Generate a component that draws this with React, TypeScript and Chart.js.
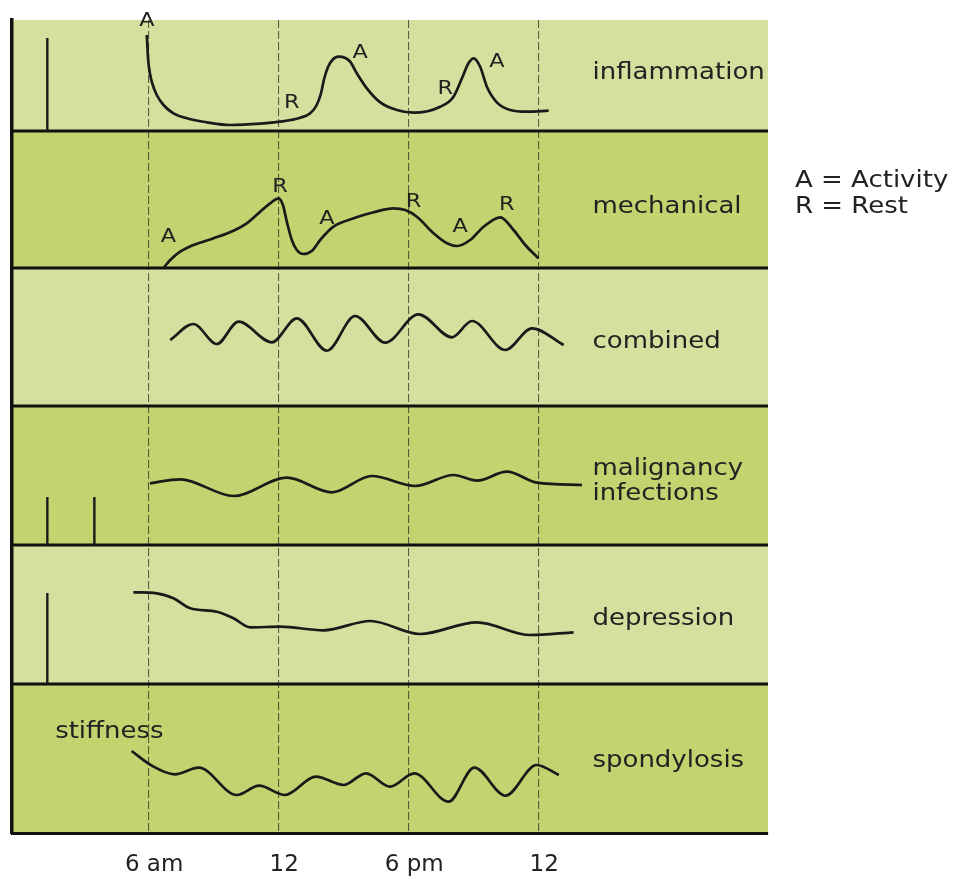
import React, { useEffect, useRef } from 'react';
import { Chart, registerables } from 'chart.js';

Chart.register(...registerables);

// ---- axis / bands ----
const tickHours = [6, 12, 18, 24];
const tickLabels = ['6 am', '12', '6 pm', '12'];
const bandNames = [['inflammation'], ['mechanical'], ['combined'], ['malignancy', 'infections'], ['depression'], ['spondylosis']];
const bandTops = [813, 702, 565, 427, 288, 149];
const bandBottoms = [702, 565, 427, 288, 149, 0];
const bandLabelHour = 26.5;
const bandLabelLevels = [[51.7], [54.7], [58], [70, 45], [59], [66.3]];

// ---- curves (hour of day, level above the band's base line) ----
const inflammationX = [5.94, 6.0, 6.08, 6.2, 6.4, 6.71, 7.17, 7.79, 8.71, 9.78, 11.17, 12.09, 13.02, 13.48, 13.78, 13.98, 14.12, 14.3, 14.5, 14.78, 15.1, 15.32, 15.63, 16.09, 16.71, 17.48, 18.25, 19.48, 20.09, 20.48, 20.78, 21.02, 21.32, 21.63, 22.09, 22.71, 23.48, 24.48];
const inflammationY = [96, 72, 58, 47, 36, 26, 17.7, 12.7, 8.7, 6, 7.3, 9.3, 13.3, 17.7, 26, 38, 52, 64, 71, 74.3, 73, 69.3, 57.7, 42.7, 28.7, 21, 18.3, 24.3, 34.3, 52.7, 67.7, 72.7, 64.3, 44.3, 28.7, 21, 19.3, 20.3];

const mechanicalX = [6.71, 7.02, 7.48, 8.09, 9.02, 9.94, 10.55, 11.17, 11.63, 12.02, 12.22, 12.4, 12.63, 12.86, 13.17, 13.56, 13.94, 14.55, 15.48, 16.4, 17.32, 17.86, 18.4, 19.17, 19.79, 20.25, 20.86, 21.48, 22.25, 22.86, 23.4, 24.01];
const mechanicalY = [0, 8, 16.3, 23, 29.7, 37.3, 44.7, 56.3, 64.7, 69.7, 63, 46.3, 28, 18, 14, 17.3, 28, 41.3, 49.7, 55.7, 59.7, 58, 51.3, 34.7, 24.7, 22, 28, 41.3, 50.7, 38, 23, 9.7];

const combinedX = [7.02, 8.09, 9.17, 10.17, 11.71, 12.86, 14.25, 15.55, 16.94, 18.47, 20.02, 20.94, 22.48, 23.71, 25.17];
const combinedY = [66, 82, 62, 84.3, 63.7, 87.7, 55.3, 90, 63.3, 91.7, 68.7, 85, 56, 77.7, 61];

const malignancyX = [6.09, 7.48, 9.94, 12.4, 14.48, 16.32, 18.32, 20.09, 21.17, 22.55, 23.94, 26.02];
const malignancyY = [61.7, 65.7, 49, 67.3, 52.7, 69, 59, 70, 64.3, 73.3, 62.3, 60];

const depressionX = [5.32, 6.4, 7.17, 7.94, 9.17, 9.94, 10.71, 12.09, 14.09, 16.25, 18.55, 21.17, 23.63, 25.63];
const depressionY = [91.7, 90.7, 85.7, 75.7, 72.3, 65.7, 56.7, 57.3, 53.7, 63, 50, 61.7, 49, 51.7];

const spondylosisX = [5.24, 6.12, 7.23, 8.34, 10.09, 11.12, 12.31, 13.74, 15.02, 16.05, 17.16, 18.28, 19.86, 21.05, 22.49, 23.92, 24.95];
const spondylosisY = [82, 68, 58.7, 65.3, 38, 47.3, 38, 56.3, 48, 59.7, 46.3, 59.7, 31.3, 65.3, 37.3, 68, 58];

// ---- short onset marks (band index, hour, height) ----
const onsetBand = [0, 3, 3, 4];
const onsetHour = [1.35, 1.35, 3.52, 1.35];
const onsetHeight = [93, 48, 48, 91];

// ---- A / R annotations ----
const inflLetters = ['A', 'R', 'A', 'R', 'A'];
const inflLetterX = [5.95, 12.63, 15.78, 19.71, 22.09];
const inflLetterY = [110, 28.7, 78, 42, 69.3];
const mechLetters = ['A', 'R', 'A', 'R', 'A', 'R'];
const mechLetterX = [6.94, 12.09, 14.25, 18.25, 20.4, 22.55];
const mechLetterY = [31.3, 81.3, 49.7, 66.3, 41.3, 63];

const legendLines = ['A = Activity', 'R = Rest'];
const legendLevels = [81.3, 54.7]; // relative to mechanical band base
const stiffnessHour = 1.71;
const stiffnessLevel = 95;

const LIGHT = '#d5e09f';
const DARK = '#c1d46f';
const INK = '#1a1a1a';
const TEXT = '#222';
const FONT = '"DejaVu Sans", Verdana, sans-serif';
const LABEL_SIZE = 23;
const LABEL_STRETCH = 1.13;
const LETTER_SIZE = 20;
const LETTER_STRETCH = 1.12;

function drawText(ctx: CanvasRenderingContext2D, text: string, x: number, y: number, size: number, stretch: number, align: CanvasTextAlign, baseline: CanvasTextBaseline) {
  ctx.save();
  ctx.translate(x, y);
  ctx.scale(stretch, 1);
  ctx.font = `${size}px ${FONT}`;
  ctx.fillStyle = TEXT;
  ctx.textAlign = align;
  ctx.textBaseline = baseline;
  ctx.fillText(text, 0, 0);
  ctx.restore();
}

const diagramPlugin = {
  id: 'diagram',
  beforeDraw(chart: any) {
    const { ctx, chartArea, scales } = chart;
    const y = scales.y;
    ctx.save();
    bandTops.forEach((top: number, i: number) => {
      const t = y.getPixelForValue(top);
      const b = y.getPixelForValue(bandBottoms[i]);
      ctx.fillStyle = i % 2 === 0 ? LIGHT : DARK;
      ctx.fillRect(chartArea.left, t, chartArea.right - chartArea.left, b - t);
    });
    ctx.restore();
  },
  beforeDatasetsDraw(chart: any) {
    const { ctx, chartArea, scales } = chart;
    const y = scales.y;
    ctx.save();
    ctx.strokeStyle = '#111';
    ctx.lineWidth = 3;
    bandBottoms.slice(0, -1).forEach((v: number) => {
      const py = y.getPixelForValue(v);
      ctx.beginPath();
      ctx.moveTo(chartArea.left, py);
      ctx.lineTo(chartArea.right, py);
      ctx.stroke();
    });
    ctx.restore();
  },
  afterDraw(chart: any) {
    const { ctx, chartArea, scales } = chart;
    const x = scales.x;
    const y = scales.y;
    bandNames.forEach((lines: string[], i: number) => {
      lines.forEach((txt: string, j: number) => {
        drawText(ctx, txt, x.getPixelForValue(bandLabelHour), y.getPixelForValue(bandBottoms[i] + bandLabelLevels[i][j]), LABEL_SIZE, LABEL_STRETCH, 'left', 'alphabetic');
      });
    });
    inflLetters.forEach((t: string, i: number) => {
      drawText(ctx, t, x.getPixelForValue(inflLetterX[i]), y.getPixelForValue(bandBottoms[0] + inflLetterY[i]), LETTER_SIZE, LETTER_STRETCH, 'center', 'middle');
    });
    mechLetters.forEach((t: string, i: number) => {
      drawText(ctx, t, x.getPixelForValue(mechLetterX[i]), y.getPixelForValue(bandBottoms[1] + mechLetterY[i]), LETTER_SIZE, LETTER_STRETCH, 'center', 'middle');
    });
    legendLines.forEach((t: string, i: number) => {
      drawText(ctx, t, chartArea.right + 27, y.getPixelForValue(bandBottoms[1] + legendLevels[i]), LABEL_SIZE, LABEL_STRETCH, 'left', 'alphabetic');
    });
    drawText(ctx, 'stiffness', x.getPixelForValue(stiffnessHour), y.getPixelForValue(bandBottoms[5] + stiffnessLevel), LABEL_SIZE, LABEL_STRETCH, 'left', 'alphabetic');
  },
};

function curve(xs: number[], ys: number[], band: number) {
  return {
    data: xs.map((h, i) => ({ x: h, y: bandBottoms[band] + ys[i] })),
    borderColor: INK,
    borderWidth: 2.7,
    pointRadius: 0,
    fill: false,
    cubicInterpolationMode: 'monotone',
  };
}

export default function App() {
  const ref = useRef<HTMLCanvasElement | null>(null);
  useEffect(() => {
    if (!ref.current) return;
    const datasets: any[] = [
      curve(inflammationX, inflammationY, 0),
      curve(mechanicalX, mechanicalY, 1),
      curve(combinedX, combinedY, 2),
      curve(malignancyX, malignancyY, 3),
      curve(depressionX, depressionY, 4),
      curve(spondylosisX, spondylosisY, 5),
    ];
    onsetBand.forEach((b, i) => {
      datasets.push({
        data: [
          { x: onsetHour[i], y: bandBottoms[b] },
          { x: onsetHour[i], y: bandBottoms[b] + onsetHeight[i] },
        ],
        borderColor: INK,
        borderWidth: 2.4,
        pointRadius: 0,
        fill: false,
      });
    });
    const chart = new Chart(ref.current, {
      type: 'line',
      data: { datasets },
      options: {
        animation: false,
        responsive: false,
        devicePixelRatio: 1,
        events: [],
        layout: { padding: { left: 12, right: 185, top: 20, bottom: 0 } },
        plugins: { legend: { display: false }, tooltip: { enabled: false } },
        scales: {
          x: {
            type: 'linear',
            min: -0.28,
            max: 34.6,
            afterBuildTicks: (s: any) => {
              s.ticks = tickHours.map((v) => ({ value: v }));
            },
            afterFit: (s: any) => {
              s.height = 47;
            },
            ticks: {
              callback: (_v: any, i: number) => tickLabels[i],
              font: { family: 'DejaVu Sans', size: 23 },
              color: TEXT,
              padding: 18,
              labelOffset: 6,
              autoSkip: false,
              maxRotation: 0,
            },
            grid: { color: 'rgba(25,25,25,0.65)', lineWidth: 1.1, drawTicks: false },
            border: { display: true, width: 3, color: '#111', dash: [8, 3] },
          },
          y: {
            type: 'linear',
            min: 0,
            max: 813,
            afterFit: (s: any) => {
              s.width = 0;
            },
            ticks: { display: false },
            grid: { display: false },
            border: { display: true, width: 3.5, color: '#111' },
          },
        },
      } as any,
      plugins: [diagramPlugin],
    });
    return () => chart.destroy();
  }, []);
  return (
    <div style={{ position: 'absolute', left: 0, top: 0, width: 953, height: 880, background: '#fff' }}>
      <canvas ref={ref} width={953} height={880} style={{ display: 'block' }} />
    </div>
  );
}
